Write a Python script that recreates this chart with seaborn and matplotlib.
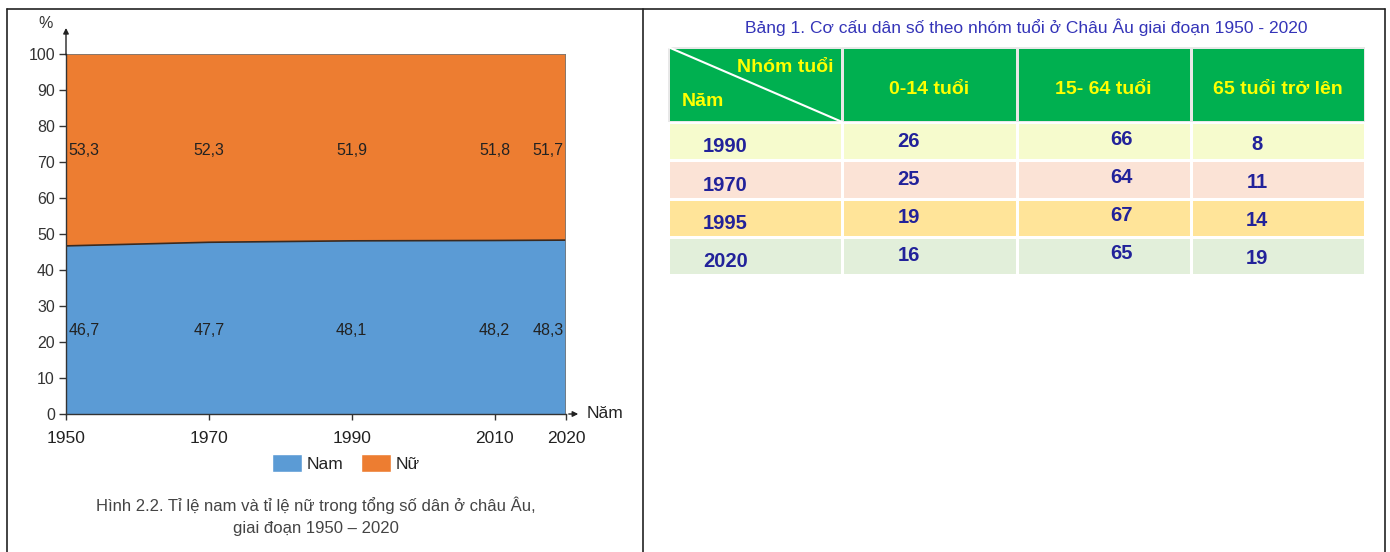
import numpy as np
import matplotlib
matplotlib.use("Agg")
import matplotlib.pyplot as plt
import seaborn as sns
from matplotlib import font_manager
from matplotlib.colors import ListedColormap
from matplotlib.patches import Patch
from matplotlib.lines import Line2D

# Chart data (Hinh 2.2)
years = [1950, 1970, 1990, 2010, 2020]
nam = [46.7, 47.7, 48.1, 48.2, 48.3]
nu = [53.3, 52.3, 51.9, 51.8, 51.7]

# Table data (Bang 1)
table_years = ["1990", "1970", "1995", "2020"]
age_groups = ["0-14 tuổi", "15- 64 tuổi", "65 tuổi trở lên"]
age_0_14 = [26, 25, 19, 16]
age_15_64 = [66, 64, 67, 65]
age_65 = [8, 11, 14, 19]

row_colors = ["#F6FBCD", "#FBE3D6", "#FFE499", "#E2EFDA"]
blue = "#5B9BD5"
orange = "#ED7D31"
navy = "#22229A"

sns.set_theme(style="white")
names = {f.name for f in font_manager.fontManager.ttflist}
narrow = "Liberation Sans Narrow" if "Liberation Sans Narrow" in names else "Liberation Sans"
plt.rcParams["font.family"] = ["Liberation Sans", "DejaVu Sans"]

W, H = 1390, 552
fig = plt.figure(figsize=(W / 100, H / 100), dpi=100)
fig.patch.set_facecolor("white")


def fx(px):
    return px / W


def fy(py):
    return 1 - py / H


# frame lines
for xs, ys in [([7, 1385], [9, 9]), ([7, 7], [9, 552]), ([643, 643], [9, 552]), ([1385, 1385], [9, 552])]:
    fig.add_artist(Line2D([fx(x) for x in xs], [fy(y) for y in ys], color="#222222", lw=1.2))

# ---------------- left: stacked area chart ----------------
ax = fig.add_axes([fx(66), fy(414), fx(500), 360 / H])
ax.stackplot(years, nam, nu, colors=[blue, orange], edgecolor="none")
sns.lineplot(x=years, y=nam, ax=ax, color="#3a2a20", lw=1.2)
ax.plot([years[0], years[-1]], [100, 100], color="#777777", lw=1.2)
ax.plot([years[-1], years[-1]], [0, 100], color="#777777", lw=1.2)
ax.set_xlim(years[0], years[-1])
ax.set_ylim(0, 100)
ax.set_facecolor("none")
for s in ["top", "right"]:
    ax.spines[s].set_visible(False)
for s in ["left", "bottom"]:
    ax.spines[s].set_color("#333333")
    ax.spines[s].set_linewidth(1.0)
ax.set_yticks(range(0, 101, 10))
ax.set_xticks(years)
ax.set_xticklabels([str(y) for y in years], fontsize=12.5, color="#222222")
ax.tick_params(axis="y", direction="out", length=5, width=1, color="#333333",
               labelsize=11.5, labelcolor="#333333", pad=3, left=True)
ax.tick_params(axis="x", direction="out", length=4, width=1, color="#333333", pad=8, bottom=True)
ax.set_xlabel("")
ax.set_ylabel("")

# axis arrows
ax.annotate("", xy=(0, 1.08), xytext=(0, 0.99), xycoords="axes fraction",
            arrowprops=dict(arrowstyle="-|>", color="#222222", lw=1, mutation_scale=8))
ax.annotate("", xy=(1.03, 0), xytext=(1.0, 0), xycoords="axes fraction",
            arrowprops=dict(arrowstyle="-|>", color="#222222", lw=1, mutation_scale=8))
ax.text(-0.04, 1.085, "%", transform=ax.transAxes, fontsize=11.5, color="#333333", ha="center", va="center")
ax.text(1.042, 0.0, "Năm", transform=ax.transAxes, fontsize=12.5, color="#222222", ha="left", va="center")

# value labels
for i, (yr, m, f) in enumerate(zip(years, nam, nu)):
    if i == 0:
        ha, off = "left", 0.3
    elif i == len(years) - 1:
        ha, off = "right", -0.3
    else:
        ha, off = "center", 0
    ax.text(yr + off, 23.3, f"{m:.1f}".replace(".", ","), ha=ha, va="center", fontsize=11.5, color="#222222")
    ax.text(yr + off, 73.3, f"{f:.1f}".replace(".", ","), ha=ha, va="center", fontsize=11.5, color="#222222")

leg = fig.legend(handles=[Patch(facecolor=blue, label="Nam"), Patch(facecolor=orange, label="Nữ")],
                 loc="center", bbox_to_anchor=(fx(346), fy(463)), ncol=2, frameon=False,
                 fontsize=12.5, handlelength=1.7, handleheight=1.3, handletextpad=0.3, columnspacing=1.0)
for t in leg.get_texts():
    t.set_color("#222222")

fig.text(fx(316), fy(505), "Hình 2.2. Tỉ lệ nam và tỉ lệ nữ trong tổng số dân ở châu Âu,",
         ha="center", va="center", fontsize=12, color="#444444", family=[narrow, "DejaVu Sans"])
fig.text(fx(316), fy(528), "giai đoạn 1950 – 2020",
         ha="center", va="center", fontsize=12, color="#444444", family=[narrow, "DejaVu Sans"])

# ---------------- right: table ----------------
fig.text(fx(1026), fy(27), "Bảng 1. Cơ cấu dân số theo nhóm tuổi ở Châu Âu giai đoạn 1950 - 2020",
         ha="center", va="center", fontsize=12.5, color="#3434B8")

# header row
hax = fig.add_axes([fx(668), fy(122), fx(697), 75 / H])
sns.heatmap(np.zeros((1, 4)), ax=hax, cmap=ListedColormap(["#00B050"]), cbar=False,
            linewidths=1.0, linecolor="#e8e8e8", xticklabels=False, yticklabels=False)
hax.plot([0, 1.0], [0, 1.0], color="white", lw=1.5)
hax.text(0.95, 0.27, "Nhóm tuổi", ha="right", va="center", fontsize=14, fontweight="bold", color="#FFFF00")
hax.text(0.08, 0.72, "Năm", ha="left", va="center", fontsize=14, fontweight="bold", color="#FFFF00")
for j, g in enumerate(age_groups):
    hax.text(j + 1.5, 0.57, g, ha="center", va="center", fontsize=14, fontweight="bold", color="#FFFF00")

# body rows
bax = fig.add_axes([fx(668), fy(275), fx(697), 153 / H])
color_idx = np.repeat(np.arange(len(table_years))[:, None], 4, axis=1)
sns.heatmap(color_idx, ax=bax, cmap=ListedColormap(row_colors), cbar=False,
            linewidths=0.8, linecolor="white", xticklabels=False, yticklabels=False)
cols = [table_years, age_0_14, age_15_64, age_65]
x_off = [-0.17, -0.12, 0.1, -0.12]
y_off = [0.15, 0.0, -0.05, 0.08]
for j, col in enumerate(cols):
    for i, v in enumerate(col):
        bax.text(j + 0.5 + x_off[j], i + 0.5 + y_off[j], str(v), ha="center", va="center",
                 fontsize=14.5, fontweight="bold", color=navy)

fig.savefig("out.png", dpi=100, facecolor="white")
